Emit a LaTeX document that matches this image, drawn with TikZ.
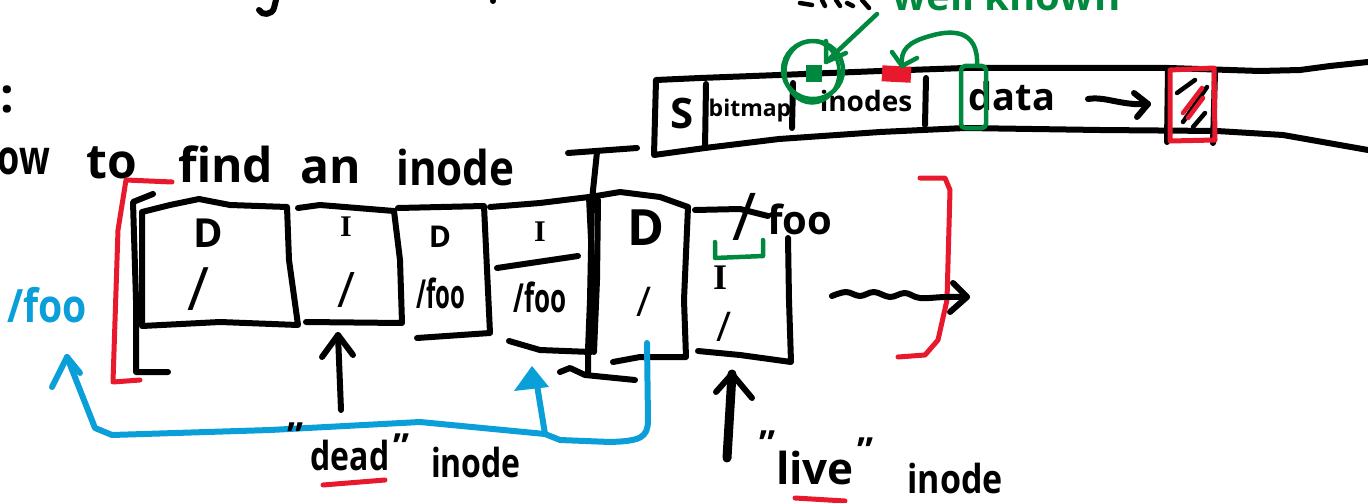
\documentclass[tikz,border=0pt]{standalone}
\usepackage{fontspec}
\setmainfont{Open Sans}
\newfontfamily\serifhand{Liberation Serif}
\newcommand\handsize[1]{\fontsize{#1}{#1}\selectfont}
\definecolor{penred}{HTML}{E8192C}
\definecolor{pengreen}{HTML}{00893E}
\definecolor{penblue}{HTML}{0A9FD8}
\begin{document}
\begin{tikzpicture}[x=1pt,y=-1pt,
  ink/.style={line width=6pt,line cap=round,line join=round},
  fine ink/.style={line width=4.5pt,line cap=round,line join=round},
  txt/.style={inner sep=0pt,font=\bfseries},
  cell/.style={inner sep=0pt,minimum width=0pt}]
\useasboundingbox (0,0) rectangle (1368,503);
\clip (0,0) rectangle (1368,503);

% ---------- fragments along the top edge ----------
\draw[ink] (276,0) -- (274,8) .. controls (272,15) and (262,16) .. (259,10);
\fill (493,1) circle (3);
\draw[fine ink] (800,3) -- (812,5) (822,0) -- (825,6) (836,0) -- (840,6) (847,3) -- (853,6) (862,0) -- (869,8);
\node[txt,anchor=base west,text=pengreen,font=\bfseries\handsize{40}] (wellknown) at (892,11) {well known};

% ---------- heading ----------
\node[txt,font=\bfseries\handsize{48}] (colon) at (7,99) {:};
\node[txt,anchor=base east,font=\bfseries\handsize{48},xscale=.75] (w1) at (50,174) {how};
\node[txt,anchor=base west,font=\bfseries\handsize{48}] (w2) at (86,178) {to};
\node[txt,anchor=base west,font=\bfseries\handsize{48}] (w3) at (178,182) {find};
\node[txt,anchor=base west,font=\bfseries\handsize{48}] (w4) at (300,183) {an};
\node[txt,anchor=base west,font=\bfseries\handsize{48},xscale=.88] (w5) at (396,185) {inode};

% ---------- disk strip ----------
\draw[ink] (1368,62) -- (1330,66) -- (1300,70) -- (1260,71) -- (1169,68) -- (965,68) -- (880,71) -- (779,75) -- (700,78) -- (656,80)
  -- (654,155) -- (705,148) -- (779,139) -- (880,132) -- (965,128) -- (1100,130) -- (1217,131) -- (1283,135) -- (1368,150);
\draw[ink] (706,84) -- (705,148);
\draw[ink] (793,83) -- (792,128);
\draw[ink] (926,78) -- (925,125);
\draw[ink] (1168,68) -- (1167,142);
\draw[ink] (1215,72) -- (1213,143);
\node[txt,font=\bfseries\handsize{42}] (sS) at (682,113) {S};
\node[txt,font=\bfseries\handsize{23}] (sbitmap) at (750,111) {bitmap};
\node[txt,font=\bfseries\handsize{28}] (sinodes) at (866,101) {inodes};
\node[txt,font=\bfseries\handsize{38}] (sdata) at (1012,96) {data};
% arrow towards the free block
\coordinate (da0) at (1088,99);
\coordinate (da1) at (1148,104);
\draw[ink] (da0) .. controls (1105,96) and (1122,106) .. (da1);
\draw[ink] (1134,93) -- (da1) -- (1137,117);
% the free block
\draw[line width=5pt,penred,line join=round] (1170,70) -- (1214,68) -- (1215,140) -- (1170,141) -- cycle;
\draw[fine ink] (1177,93) -- (1195,80) (1183,122) -- (1207,87) (1193,127) -- (1205,113);
\draw[fine ink,penred] (1183,113) -- (1202,88) (1188,118) -- (1203,98);
% well known locations
\fill[pengreen] (806,65) rectangle (822,82);
\draw[fine ink,pengreen] (813,70) ellipse (30 and 29);
\draw[line width=3.5pt,pengreen] (812,72) ellipse (27 and 31);
\coordinate (g0) at (877,14);
\coordinate (g1) at (826,62);
\draw[fine ink,pengreen] (g0) -- (g1);
\draw[fine ink,pengreen] (826,41) -- (g1) -- (846,53);
\fill[penred,rotate around={-3:(896,74)}] (882,66) rectangle (911,82);
\draw[fine ink,pengreen,rounded corners=4pt] (961,66) rectangle (986,128);
\coordinate (h0) at (977,66);
\coordinate (h1) at (902,66);
\draw[fine ink,pengreen] (h0) .. controls (979,28) and (950,30) .. (930,36) .. controls (908,42) and (900,50) .. (h1);
\draw[fine ink,pengreen] (892,52) -- (h1) -- (917,58);

% ---------- brackets ----------
\draw[line width=5pt,penred,line join=round,line cap=round] (172,182) -- (126,180) -- (118,230) -- (113,382) -- (140,380);
\draw[ink] (153,194) -- (133,202) -- (136,300) -- (136,372) -- (168,372);
\draw[line width=5pt,penred,line join=round,line cap=round] (920,178) -- (945,178) -- (950,190) -- (947,300) -- (938,340) -- (925,355) -- (898,357);

% ---------- blocks ----------
% block 1
\draw[ink] (142,212) -- (170,205) -- (199,199) -- (230,205) -- (287,207) -- (289,260) -- (298,325) -- (220,322) -- (142,326) -- cycle;
% block 2
\draw[ink] (298,208) -- (320,205) -- (394,211) -- (400,260) -- (402,323) -- (306,322);
% block 3
\draw[ink] (398,208) -- (484,206) -- (490,333) -- (417,338);
% block 4
\draw[ink] (490,207) -- (540,203) -- (589,197) -- (592,260) -- (591,352) -- (540,350) -- (509,341);
\draw[ink] (497,268) -- (578,256);
% separator
\draw[ink] (568,153) -- (637,148);
\draw[ink] (597,152) -- (592,200) -- (590,300) -- (588,350) -- (588,375);
\draw[ink] (598,200) -- (597,280) -- (594,352);
\draw[ink] (560,372) -- (570,368) -- (585,375) -- (635,380);
% block 5
\draw[ink] (590,197) -- (620,192) -- (660,197) -- (688,207) -- (684,300) -- (686,357) -- (640,357) -- (613,362);
% block 6
\draw[ink] (695,210) -- (740,209) -- (768,216);
\draw[ink] (788,238) -- (789,300) -- (791,362) -- (740,355) -- (698,351);
\draw[fine ink,pengreen] (715,242) -- (715,258) -- (763,256) -- (763,240);

% ---------- block contents ----------
\node[txt,font=\bfseries\handsize{40}] (d1) at (208,233) {D};
\node[txt,font=\handsize{60}] (s1) at (199,289) {/};
\node[txt,font=\serifhand\bfseries\handsize{30}] (i2) at (346,227) {I};
\node[txt,font=\handsize{49}] (s2) at (346,290) {/};
\node[txt,font=\bfseries\handsize{30}] (d3) at (440,237) {D};
\node[txt,font=\bfseries\handsize{40},xscale=.6] (f3) at (441,293) {/foo};
\node[txt,font=\serifhand\bfseries\handsize{30}] (i4) at (540,232) {I};
\node[txt,font=\bfseries\handsize{40},xscale=.65] (f4) at (540,297) {/foo};
\node[txt,font=\bfseries\handsize{50}] (d5) at (646,228) {D};
\node[txt,font=\handsize{41}] (s5) at (644,302) {/};
\node[txt,font=\serifhand\bfseries\handsize{36}] (i6) at (720,278) {I};
\node[txt,font=\handsize{41}] (s6) at (724,327) {/};
\node[txt,font=\handsize{66}] (n6s) at (745,217) {/};
\node[txt,font=\bfseries\handsize{40}] (n6f) at (800,219) {foo};

% ---------- lookup path ----------
\node[txt,text=penblue,font=\bfseries\handsize{46},xscale=.85] (bluefoo) at (47,305) {/foo};
\coordinate (b5foot) at (647,343);
\coordinate (fork) at (545,434);
\coordinate (tip4) at (532,366);
\coordinate (tipfoo) at (67,357);
\draw[ink,penblue] (b5foot) -- (648,420) .. controls (648,438) and (640,441) .. (610,442) -- (560,440) -- (fork);
\draw[ink,penblue] (fork) -- (537,385);
\fill[penblue] (514,391) -- (tip4) -- (549,387) -- cycle;
\draw[ink,penblue] (fork) -- (420,422) -- (270,430) -- (112,435) -- (95,428) -- (tipfoo);
\draw[ink,penblue] (52,387) -- (tipfoo) -- (80,373);

% ---------- wavy arrow ----------
\coordinate (w0) at (832,296);
\coordinate (w1e) at (967,297);
\draw[ink] plot[smooth,tension=.6] coordinates {(w0) (846,292) (860,296) (874,292) (890,297) (905,293) (920,298) (945,297) (w1e)};
\draw[ink] (953,283) -- (w1e) -- (950,312);

% ---------- labels under the blocks ----------
\node[txt,font=\bfseries\handsize{36}] (q1) at (296,436) {\symbol{34}};
\node[txt,font=\bfseries\handsize{40},xscale=.8] (dead) at (350,455) {dead};
\node[txt,font=\bfseries\handsize{36}] (q2) at (402,447) {\symbol{34}};
\node[txt,font=\bfseries\handsize{40},xscale=.8] (deadinode) at (476,462) {inode};
\draw[line width=5pt,penred,line cap=round] (323,485) -- (385,480);
\coordinate (dt) at (338,335);
\draw[ink] (341,410) -- (dt);
\draw[ink] (322,357) -- (dt) -- (353,355);

\node[txt,font=\bfseries\handsize{36}] (q3) at (767,444) {\symbol{34}};
\node[txt,font=\bfseries\handsize{44}] (live) at (815,468) {live};
\node[txt,font=\bfseries\handsize{36}] (q4) at (865,451) {\symbol{34}};
\node[txt,font=\bfseries\handsize{40},xscale=.85] (liveinode) at (955,478) {inode};
\draw[line width=5pt,penred,line cap=round] (795,498) -- (845,501);
\coordinate (lt) at (732,374);
\draw[line width=9pt,line cap=round] (727,458) -- (lt);
\draw[ink] (716,392) -- (lt) -- (752,398);
\end{tikzpicture}
\end{document}
